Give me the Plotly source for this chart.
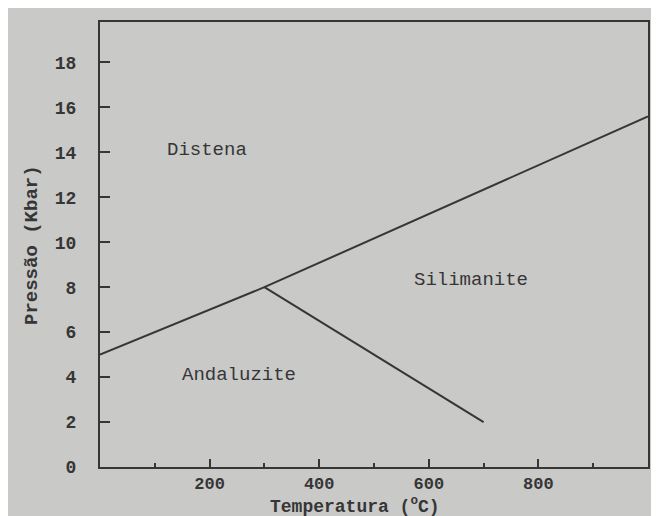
import plotly.graph_objects as go

# Phase boundaries (Temperatura °C, Pressão Kbar)
boundary1_T = [0, 300, 1000]
boundary1_P = [5, 8, 15.6]
boundary2_T = [300, 700]
boundary2_P = [8, 2]

region_names = ["Distena", "Andaluzite", "Silimanite"]
region_T = [196, 253, 677]
region_P = [14.1, 4.1, 8.3]

x_ticks = [200, 400, 600, 800]
x_minor = [100, 300, 500, 700, 900]
y_ticks = [0, 2, 4, 6, 8, 10, 12, 14, 16, 18]

ink = "#363636"
paper = "#c9c9c8"
mono = "Liberation Mono"

fig = go.Figure()
fig.add_trace(go.Scatter(x=boundary1_T, y=boundary1_P, mode="lines",
                         line=dict(color=ink, width=2), showlegend=False, hoverinfo="skip"))
fig.add_trace(go.Scatter(x=boundary2_T, y=boundary2_P, mode="lines",
                         line=dict(color=ink, width=2), showlegend=False, hoverinfo="skip"))

for name, t, p in zip(region_names, region_T, region_P):
    fig.add_annotation(x=t, y=p, text=name, showarrow=False, xanchor="center", yanchor="middle",
                       font=dict(family=mono, size=19, color=ink))

W, H = 659, 516
OFF = 8  # page body margin
ml, mr, mt, mb = 100 - OFF, 19, 22 - OFF, 57
pw, ph = W - ml - mr, H - mt - mb

def px_to_paper_x(px):
    return (px - OFF - ml) / pw

def px_to_paper_y(py):
    return (H - mb - (py - OFF)) / ph

fig.add_annotation(xref="paper", yref="paper", x=px_to_paper_x(355), y=px_to_paper_y(505),
                   xanchor="center", yanchor="middle",
                   text="Temperatura (<sup>o</sup>C)", showarrow=False,
                   font=dict(family=mono, size=18, color=ink, weight="bold"))
fig.add_annotation(xref="paper", yref="paper", x=px_to_paper_x(32), y=px_to_paper_y(245),
                   xanchor="center", yanchor="middle",
                   text="Pressão (Kbar)", showarrow=False, textangle=-90,
                   font=dict(family=mono, size=19, color=ink, weight="bold"))

fig.update_layout(
    width=W, height=H,
    margin=dict(l=ml, r=mr, t=mt, b=mb),
    paper_bgcolor=paper,
    plot_bgcolor=paper,
    showlegend=False,
)
fig.update_xaxes(range=[0, 1000], tickvals=x_ticks, ticks="inside", ticklen=8, tickwidth=2,
                 tickcolor=ink, showgrid=False, zeroline=False, showline=True, linewidth=2,
                 linecolor=ink, mirror=True,
                 tickfont=dict(family=mono, size=17, color=ink, weight="bold"),
                 minor=dict(tickvals=x_minor, ticks="inside", ticklen=4,
                            tickwidth=1.5, tickcolor=ink))
fig.update_yaxes(range=[0, 19.8], tickvals=y_ticks, ticks="inside", ticklen=10, tickwidth=2,
                 tickcolor=ink, showgrid=False, zeroline=False, showline=True, linewidth=2,
                 linecolor=ink, mirror=True, ticklabelstandoff=18,
                 tickfont=dict(family=mono, size=18, color=ink, weight="bold"))

fig.write_html("out.html")
